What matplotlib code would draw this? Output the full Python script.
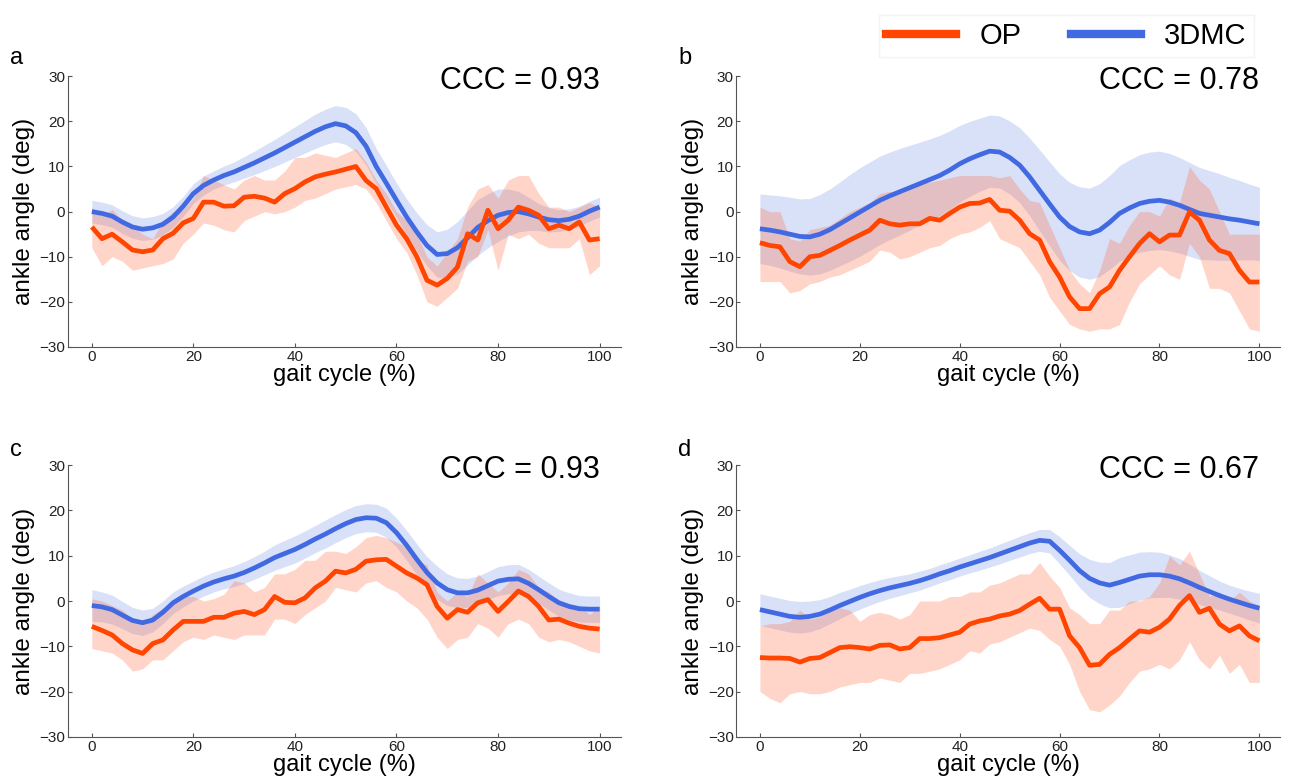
import matplotlib.pyplot as plt
import numpy as np
from matplotlib.lines import Line2D

plt.rcParams['font.family'] = ['Liberation Sans', 'DejaVu Sans']

# x positions (% gait cycle)
x = np.arange(0, 101, 2)

# ---- panel a ----
op_a = [-3.4, -6.0, -5.0, -6.7, -8.5, -8.9, -8.5, -6.0, -4.8, -2.5, -1.5, 2.1, 2.1, 1.2, 1.3, 3.2, 3.4,
        3.0, 2.1, 4.0, 5.1, 6.6, 7.7, 8.3, 8.8, 9.4, 10.0, 6.9, 5.1, 1.0, -3.0, -6.0, -10.0, -15.2,
        -16.3, -14.8, -12.3, -4.9, -6.3, 0.3, -3.8, -1.9, 1.0, 0.3, -0.8, -3.8, -3.0, -3.8, -2.3, -6.3, -6.0]
op_a_hi = [1, -1, 0.5, -2, -3, -5, -6, -2, 0, 0.5, 3, 8, 7, 6, 5, 7, 8, 7, 7, 9, 12, 12, 13, 12.5, 12,
           13, 14, 11, 7, 4, 0, -2, -5, -10, -12, -9, -6, 1, 5, 6, 3, 7, 8, 8, 4, 1, 1, 0, 1, 2, 1]
op_a_lo = [-8, -12, -10, -11, -13, -12.5, -12, -11.5, -10.5, -7, -5, -2.5, -3, -4, -4.5, -2, -1, 0,
           -0.5, 0, 1, 2.5, 3, 4, 5, 5.5, 6, 5, 2, -2, -6, -9, -14, -20, -21, -19, -17, -11, -10, -4,
           -13, -5, -6, -5, -7, -8, -8, -8, -6, -14, -12]
mc_a = [0, -0.4, -1.0, -2.3, -3.4, -3.9, -3.6, -2.8, -1.2, 1.2, 4.0, 5.8, 7.0, 8.0, 8.8, 9.8, 10.8,
        11.9, 13.0, 14.2, 15.4, 16.6, 17.8, 18.8, 19.5, 19.0, 17.5, 14.5, 10.0, 6.3, 2.5, -1.2, -4.5,
        -7.5, -9.5, -9.3, -8.0, -5.8, -3.5, -2.0, -0.8, -0.2, 0.0, -0.5, -1.2, -1.8, -2.0, -1.7,
        -1.0, 0.1, 1.0]
mc_a_sd = [2.5, 2.5, 2.5, 2.5, 2.5, 2.5, 2.5, 2.4, 2.3, 2.2, 2.2, 2.1, 2.0, 2.1, 2.2, 2.4, 2.6, 2.8,
           3.0, 3.2, 3.4, 3.6, 3.8, 3.9, 4.0, 4.1, 4.2, 4.1, 4.0, 3.9, 3.8, 4.0, 4.2, 4.6, 5.0, 5.4,
           5.8, 6.0, 6.2, 6.0, 5.8, 5.2, 4.5, 3.7, 3.0, 2.7, 2.4, 2.3, 2.2, 2.2, 2.2]

# ---- panel b ----
op_b = [-6.9, -7.5, -7.8, -11.1, -12.2, -10.0, -9.7, -8.6, -7.5, -6.3, -5.2, -4.1, -1.9, -2.7, -3.0,
        -2.7, -2.7, -1.5, -1.9, -0.4, 1.0, 1.8, 1.9, 2.7, 0.3, 0.1, -1.9, -4.9, -6.3, -11.1, -14.5,
        -18.9, -21.5, -21.5, -18.2, -16.7, -13.0, -10.0, -7.1, -4.9, -6.7, -5.2, -5.2, -0.1, -1.9,
        -6.3, -8.6, -9.3, -13.0, -15.6, -15.6]
op_b_hi = [1, 0, 0, -6, -6.5, -4, -3.5, -3, -1.5, 0, 1, 2, 4, 4.5, 4, 5, 6.5, 6.5, 7, 7.5, 8, 8, 8, 8,
           7.5, 8, 5, 2.5, 2, -3, -8, -13, -16, -18, -13, -6, -7, -3, 0, 0, -1, 3, 2, 10, 7, 5, 0,
           -5, -5, -5, -5]
op_b_lo = [-15.5, -15.5, -15.5, -18, -17.5, -16, -15.5, -14.5, -14, -13, -12, -11, -8.5, -9, -10.5,
           -10, -9, -8, -7.5, -6, -5, -4.5, -3.5, -2, -6, -7, -8, -11, -14, -19, -22, -25, -26,
           -26.5, -26, -26, -25, -20, -16, -14, -12, -14, -15, -7, -10, -17, -17, -18, -22, -26, -26.5]
mc_b = [-3.8, -4.1, -4.5, -5.0, -5.5, -5.6, -5.0, -4.0, -2.7, -1.4, -0.1, 1.2, 2.5, 3.5, 4.4, 5.3,
        6.2, 7.1, 8.0, 9.2, 10.6, 11.7, 12.6, 13.4, 13.2, 12.0, 10.3, 7.7, 4.7, 1.7, -1.2, -3.3,
        -4.5, -4.9, -4.1, -2.4, -0.4, 0.8, 1.8, 2.3, 2.5, 2.1, 1.4, 0.5, -0.4, -0.8, -1.2, -1.6,
        -1.9, -2.3, -2.7]
mc_b_sd = [7.7, 7.8, 8.0, 8.2, 8.3, 8.5, 8.8, 9.0, 9.3, 9.6, 9.8, 9.8, 9.8, 9.7, 9.6, 9.4, 9.2, 9.0,
           8.9, 8.7, 8.5, 8.3, 8.1, 8.0, 8.0, 8.1, 8.3, 8.6, 9.0, 9.3, 9.6, 9.8, 10.0, 10.1, 10.3,
           10.4, 10.6, 10.7, 10.8, 10.9, 10.9, 10.8, 10.6, 10.4, 10.2, 9.9, 9.6, 9.2, 8.8, 8.4, 8.1]

# ---- panel c ----
op_c = [-5.6, -6.5, -7.5, -9.4, -10.8, -11.6, -9.4, -8.6, -6.4, -4.5, -4.5, -4.5, -3.6, -3.6, -2.7,
        -2.3, -3.0, -1.9, 1.0, -0.3, -0.4, 0.7, 2.9, 4.4, 6.6, 6.2, 7.0, 8.8, 9.1, 9.2, 7.7, 6.2, 5.1,
        3.6, -1.2, -3.8, -1.9, -2.5, -0.4, 0.3, -2.3, -0.1, 2.2, 1.0, -1.2, -4.2, -4.0, -4.9, -5.6,
        -6.0, -6.2]
op_c_hi = [0.5, 0, -1, -2, -4, -5, -3, -1.5, 0, 1, 1, 0, 0.5, 1.5, 4.5, 4, 2, 3, 6, 6, 7, 9, 9, 11,
           11, 10.5, 12, 14, 14.5, 14, 13, 12, 9, 8, 2, 0, 2, 1, 6, 4, 2, 4, 7, 6, 3, 2, 0, -1, -1,
           -3, -1]
op_c_lo = [-10.5, -11, -11.5, -13, -15.5, -15, -13, -13, -11, -9, -8, -8.5, -7.5, -8, -8.5, -7.5,
           -7.5, -7.5, -4, -4, -5, -3, -1.5, 0, 3, 2.5, 2, 4, 4.5, 3, 2, 0, -1.5, -4, -8, -10.5,
           -8.5, -8, -5, -6, -8, -5, -4, -5, -8, -9, -8.5, -9, -10, -11, -11.5]
mc_c = [-1.0, -1.3, -1.9, -3.1, -4.3, -4.8, -4.2, -2.5, -0.4, 1.0, 2.2, 3.3, 4.2, 4.9, 5.5, 6.3, 7.3,
        8.4, 9.6, 10.5, 11.4, 12.5, 13.7, 14.8, 16.0, 17.1, 18.0, 18.4, 18.3, 17.3, 15.1, 12.3, 9.2,
        6.3, 4.0, 2.5, 1.8, 1.8, 2.4, 3.4, 4.4, 4.8, 4.9, 3.9, 2.5, 1.0, -0.4, -1.2, -1.7, -1.8, -1.8]
mc_c_sd = [3.5, 3.3, 3.2, 3.0, 2.9, 2.8, 2.6, 2.5, 2.4, 2.3, 2.2, 2.2, 2.2, 2.2, 2.3, 2.4, 2.5, 2.6,
           2.8, 2.9, 3.0, 3.0, 3.0, 3.1, 3.1, 3.1, 3.1, 3.1, 3.1, 3.2, 3.2, 3.3, 3.4, 3.5, 3.7, 3.5,
           3.3, 3.2, 3.1, 3.1, 3.2, 3.2, 3.2, 3.1, 3.0, 3.0, 3.0, 3.0, 2.9, 2.9, 2.9]

# ---- panel d ----
op_d = [-12.5, -12.6, -12.6, -12.7, -13.5, -12.7, -12.5, -11.4, -10.3, -10.1, -10.3, -10.6, -9.8,
        -9.7, -10.6, -10.3, -8.3, -8.3, -8.1, -7.5, -6.9, -5.1, -4.4, -4.0, -3.3, -2.9, -2.1, -0.7,
        0.6, -1.8, -1.8, -7.7, -10.3, -14.2, -14.0, -11.8, -10.3, -8.4, -6.6, -6.9, -5.8, -4.0,
        -1.0, 1.2, -2.5, -1.6, -5.1, -6.6, -5.5, -7.7, -8.8]
op_d_hi = [-5.5, -5, -5, -4.5, -2, -4, -3.5, -2, -1.5, -2, -4.5, -3, -2.5, -3, -4, -3, 0, 0, 0, 1,
           1, 2, 2, 3.5, 4, 5, 6, 6, 8.5, 5.5, 3, -1.5, -3, -5, -5, -2, -2, 0, 0, 1, 4, 10, 8, 11,
           6, 1, 2, 0, 2, 0, -1]
op_d_lo = [-20, -21.5, -22.5, -20.5, -20, -20.5, -20.5, -20, -19, -18.5, -18, -18, -17, -17.5, -18,
           -16, -16, -15.5, -15, -14, -13, -11, -11.5, -9.5, -9, -8, -7, -6, -6.5, -8.5, -10, -14,
           -20, -24, -24.5, -23, -21, -18, -15.5, -15, -14, -15, -13, -9, -13, -15, -12, -16, -14,
           -18, -18]
mc_d = [-1.9, -2.4, -2.9, -3.4, -3.6, -3.4, -2.9, -2.0, -1.0, -0.1, 0.8, 1.6, 2.3, 2.9, 3.4, 3.9,
        4.5, 5.2, 6.0, 6.7, 7.5, 8.2, 8.9, 9.6, 10.4, 11.2, 12.0, 12.8, 13.4, 13.2, 11.2, 9.0, 6.7,
        5.0, 4.0, 3.5, 4.1, 4.8, 5.5, 5.8, 5.8, 5.5, 4.9, 4.0, 3.0, 2.1, 1.2, 0.4, -0.3, -1.0, -1.6]
mc_d_sd = [3.5, 3.5, 3.5, 3.5, 3.5, 3.4, 3.2, 3.0, 2.9, 2.7, 2.6, 2.5, 2.4, 2.3, 2.2, 2.1, 2.1, 2.0,
           2.0, 2.0, 2.0, 2.0, 2.1, 2.1, 2.2, 2.2, 2.3, 2.3, 2.4, 2.6, 3.0, 3.3, 3.7, 4.2, 4.6, 5.0,
           5.5, 5.4, 5.3, 5.1, 5.0, 4.7, 4.5, 4.1, 3.8, 3.5, 3.2, 3.1, 3.1, 3.2, 3.3]

panels = [
    ('a', 0.93, op_a, op_a_hi, op_a_lo, mc_a, mc_a_sd),
    ('b', 0.78, op_b, op_b_hi, op_b_lo, mc_b, mc_b_sd),
    ('c', 0.93, op_c, op_c_hi, op_c_lo, mc_c, mc_c_sd),
    ('d', 0.67, op_d, op_d_hi, op_d_lo, mc_d, mc_d_sd),
]

op_col = '#FF4500'
mc_col = '#4169E1'

fig = plt.figure(figsize=(12.92, 7.78), dpi=100)
boxes = [(0.0526, 0.554, 0.428, 0.348), (0.570, 0.554, 0.421, 0.348),
         (0.0526, 0.053, 0.428, 0.349), (0.570, 0.053, 0.421, 0.349)]
letter_pos = [(0.008, 0.925), (0.525, 0.925), (0.008, 0.422), (0.525, 0.422)]

for (lab, ccc, op, op_hi, op_lo, mc, mc_sd), box, lp in zip(panels, boxes, letter_pos):
    ax = fig.add_axes(box)
    mc = np.array(mc)
    mc_sd = np.array(mc_sd)
    ax.fill_between(x, mc - mc_sd, mc + mc_sd, color=mc_col, alpha=0.2, lw=0)
    ax.fill_between(x, op_lo, op_hi, color='#FF6A3D', alpha=0.28, lw=0)
    ax.plot(x, mc, color=mc_col, lw=3.4, solid_capstyle='butt', solid_joinstyle='round')
    ax.plot(x, op, color=op_col, lw=3.4, solid_capstyle='butt', solid_joinstyle='round')
    ax.set_xlim(-4.7, 104.2)
    ax.set_ylim(-30, 30)
    ax.set_xticks([0, 20, 40, 60, 80, 100])
    ax.set_yticks([-30, -20, -10, 0, 10, 20, 30])
    for s in ['top', 'right']:
        ax.spines[s].set_visible(False)
    for s in ['left', 'bottom']:
        ax.spines[s].set_color('#555555')
    ax.tick_params(direction='in', length=3, color='#555555', labelsize=11, labelcolor='#222222', pad=2)
    ax.set_xlabel('gait cycle (%)', fontsize=17, labelpad=0)
    ax.set_ylabel('ankle angle (deg)', fontsize=17.5, labelpad=3)
    ax.text(100, 29, 'CCC = %.2f' % ccc, ha='right', va='center', fontsize=22)
    fig.text(lp[0], lp[1], lab, fontsize=17, va='center')

handles = [Line2D([], [], color=op_col, lw=6), Line2D([], [], color=mc_col, lw=6)]
leg = fig.legend(handles, ['OP', '3DMC'], loc='upper right', bbox_to_anchor=(0.982, 1.0), ncol=2,
                 fontsize=21, handlelength=2.4, columnspacing=1.7, frameon=True, fancybox=False,
                 edgecolor='#f0f0f0', borderpad=0.25)

fig.savefig('out.png', dpi=100)
